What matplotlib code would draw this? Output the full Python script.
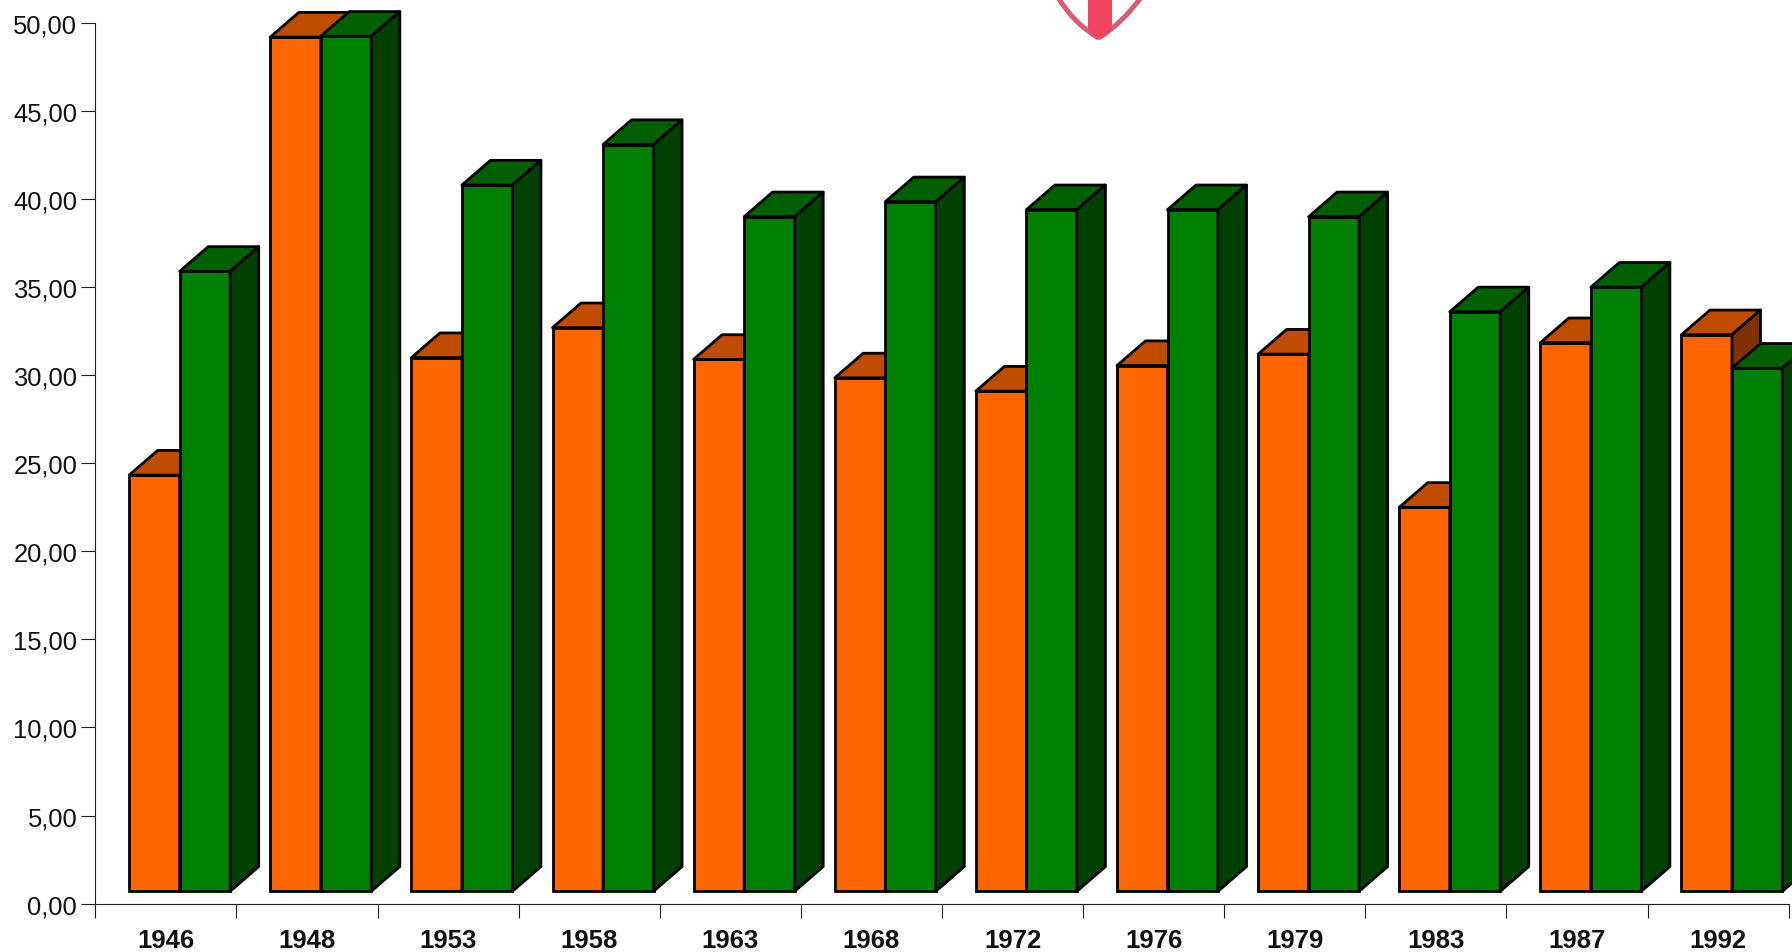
#!/usr/bin/env python3
"""Pseudo-3D grouped columns, orange and green, one pair per election year."""
from __future__ import annotations

import matplotlib

matplotlib.use("Agg")

import matplotlib.pyplot as plt
from matplotlib.patches import PathPatch, Polygon
from matplotlib.path import Path
from matplotlib.transforms import Affine2D

years = ["1946", "1948", "1953", "1958", "1963", "1968", "1972", "1976", "1979", "1983", "1987", "1992"]
orange_values = [24.33, 49.2, 31.0, 32.7, 30.9, 29.85, 29.1, 30.55, 31.2, 22.5, 31.85, 32.3]
green_values = [35.9, 49.25, 40.8, 43.1, 39.0, 39.85, 39.4, 39.4, 39.0, 33.6, 35.0, 30.4]
y_ticks = [0, 5, 10, 15, 20, 25, 30, 35, 40, 45, 50]

W, H = 1792, 953
AX_LEFT, AX_RIGHT, AX_TOP, AX_BOTTOM = 95.3, 1788.7, 24.0, 904.6

BASE = 0.7  # columns stand a little above the axis
BAR_START = 0.24
BAR_W = 0.358
DEPTH_X = 0.202
DEPTH_Y = 1.4
EDGE = 2.0

ORANGE = ("#ff6600", "#bf4c00", "#803300")
GREEN = ("#008000", "#006000", "#004000")


def draw_column(ax, x0, value, colors):
    front, top, side = colors
    x1 = x0 + BAR_W
    ax.bar(x0, value - BASE, width=BAR_W, bottom=BASE, align="edge", color=front,
           edgecolor="black", linewidth=EDGE, clip_on=False)
    ax.add_patch(Polygon([(x0, value), (x0 + DEPTH_X, value + DEPTH_Y), (x1 + DEPTH_X, value + DEPTH_Y), (x1, value)],
                         facecolor=top, edgecolor="black", linewidth=EDGE, clip_on=False, joinstyle="round"))
    ax.add_patch(Polygon([(x1, BASE), (x1 + DEPTH_X, BASE + DEPTH_Y), (x1 + DEPTH_X, value + DEPTH_Y), (x1, value)],
                         facecolor=side, edgecolor="black", linewidth=EDGE, clip_on=False, joinstyle="round"))


def draw_logo(fig):
    # tip of the shield cut off by the top of the picture, coordinates in picture pixels
    to_fig = Affine2D().scale(1, -1).translate(0, H)
    curve = [Path.MOVETO, Path.CURVE3, Path.CURVE3]
    for start, ctrl in [((1057, -3), (1074, 25)), ((1142, -3), (1122, 25))]:
        fig.add_artist(PathPatch(Path([start, ctrl, (1098.5, 39)], curve), transform=to_fig, facecolor="none",
                                 edgecolor="#d65c72", linewidth=3.6))
    stripe = [(1088, -3), (1088, 31), (1098.5, 41), (1112, 31), (1112, -3)]
    fig.add_artist(Polygon(stripe, transform=to_fig, facecolor="#ee4560", edgecolor="none"))


def main() -> None:
    plt.rcParams["font.family"] = ["Liberation Sans", "DejaVu Sans"]
    fig = plt.figure(figsize=(W / 100, H / 100), dpi=100)
    ax = fig.add_axes([AX_LEFT / W, (H - AX_BOTTOM) / H, (AX_RIGHT - AX_LEFT) / W, (AX_BOTTOM - AX_TOP) / H])

    for i, (orange, green) in enumerate(zip(orange_values, green_values)):
        draw_column(ax, i + BAR_START, orange, ORANGE)
        draw_column(ax, i + BAR_START + BAR_W, green, GREEN)

    ax.set_xlim(0, len(years))
    ax.set_ylim(0, 50)
    ax.spines[["top", "right"]].set_visible(False)
    ax.spines[["left", "bottom"]].set_linewidth(0.8)
    ax.spines[["left", "bottom"]].set_color("#222222")

    ax.set_yticks(y_ticks)
    ax.set_yticklabels([f"{t:.2f}".replace(".", ",") for t in y_ticks], fontsize=18.4, color="#111111")
    ax.tick_params(axis="y", length=10, width=0.8, color="#222222", pad=3)

    ax.set_xticks(range(len(years) + 1))
    ax.set_xticklabels([""] * (len(years) + 1))
    ax.tick_params(axis="x", length=10, width=0.8, color="#222222")
    for i, year in enumerate(years):
        ax.annotate(year, xy=(i + 0.5, 0), xycoords=("data", "axes fraction"), xytext=(0, -26),
                    textcoords="offset points", ha="center", va="center",
                    fontsize=18.5, fontweight="bold", color="#111111", annotation_clip=False)

    draw_logo(fig)
    fig.savefig("out.png", dpi=100)
    plt.close(fig)


if __name__ == "__main__":
    main()
